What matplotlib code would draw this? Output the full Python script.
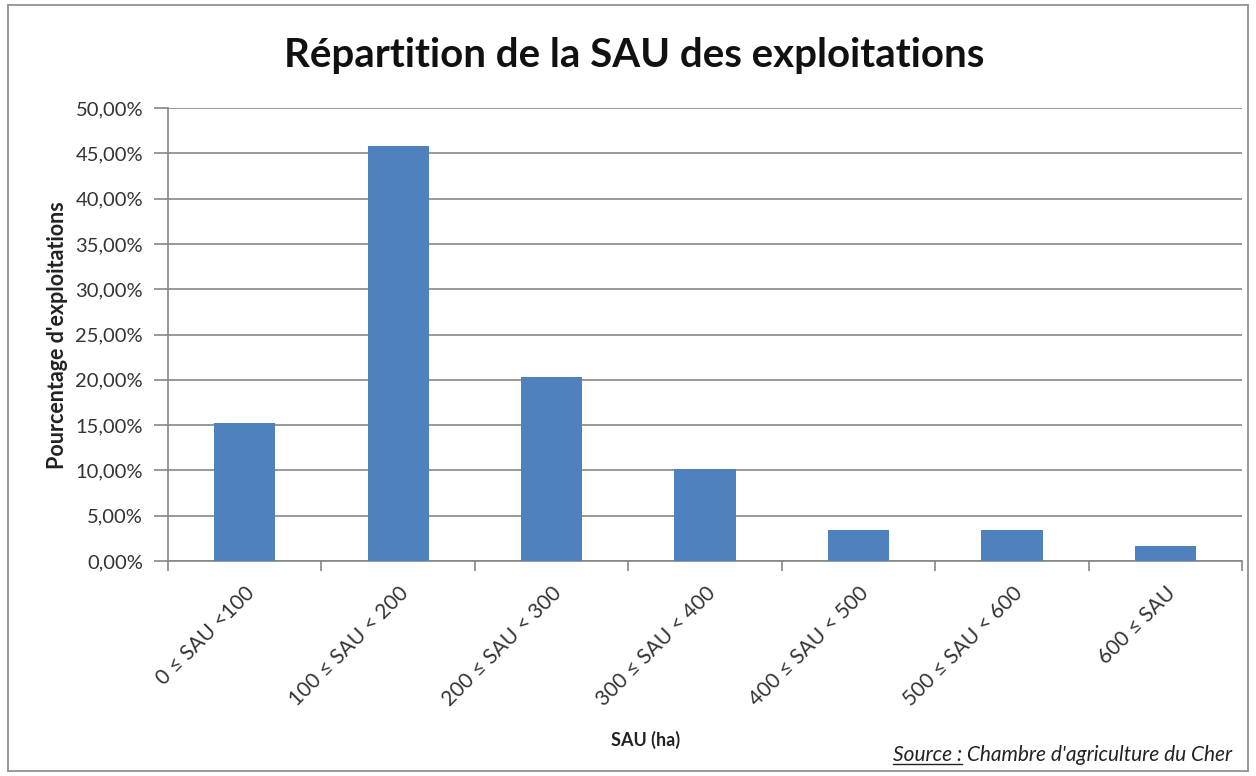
import matplotlib
matplotlib.use("Agg")
import matplotlib.pyplot as plt
from matplotlib.ticker import FuncFormatter, FixedLocator
from matplotlib.lines import Line2D
from matplotlib.patches import Rectangle

plt.rcParams['font.family'] = ['Lato', 'DejaVu Sans']

# data
categories = ["0 \u2264 SAU <100", "100 \u2264 SAU < 200", "200 \u2264 SAU < 300",
              "300 \u2264 SAU < 400", "400 \u2264 SAU < 500", "500 \u2264 SAU < 600",
              "600 \u2264 SAU"]
shares = [15.25, 45.76, 20.34, 10.17, 3.39, 3.39, 1.69]
yticks = [0, 5, 10, 15, 20, 25, 30, 35, 40, 45, 50]

grey = "#868686"
fig = plt.figure(figsize=(12.56, 7.76), dpi=100)
fig.patches.append(Rectangle((0.006, 0.006), 0.988, 0.988, transform=fig.transFigure,
                             fill=False, edgecolor=grey, lw=1.2))
ax = fig.add_axes([0.1338, 0.277, 0.8551, 0.5838])

x = list(range(len(categories)))
ax.bar(x, shares, width=0.4, color="#4F81BD", zorder=3)

ax.set_xlim(-0.5, len(categories) - 0.5)
ax.set_ylim(0, 50)
ax.set_yticks(yticks)
ax.yaxis.set_major_formatter(FuncFormatter(lambda v, p: ("%.2f%%" % v).replace(".", ",")))
ax.yaxis.grid(True, color=grey, lw=1.2, zorder=0)
ax.tick_params(axis="y", length=10, color=grey, width=1.2, labelsize=14.5, pad=8,
               labelcolor="#333333")

ax.set_xticks(x)
ax.set_xticklabels(categories, rotation=45, ha="right", va="top", rotation_mode="anchor",
                   fontsize=15, color="#333333")
ax.tick_params(axis="x", which="major", length=0, pad=16)
ax.xaxis.set_minor_locator(FixedLocator([i - 0.5 for i in range(len(categories) + 1)]))
ax.tick_params(axis="x", which="minor", length=7, color=grey, width=1.2)

for s in ["top", "right"]:
    ax.spines[s].set_visible(False)
for s in ["left", "bottom"]:
    ax.spines[s].set_color(grey)
    ax.spines[s].set_linewidth(1.2)

fig.text(0.505, 0.929, "R\u00e9partition de la SAU des exploitations", ha="center",
         va="center", fontsize=29, fontweight="bold", color="#111111")
fig.text(0.514, 0.047, "SAU (ha)", ha="center", va="center", fontsize=13,
         fontweight="bold", color="#222222")
fig.text(0.0455, 0.568, "Pourcentage d'exploitations", ha="center", va="center",
         rotation=90, fontsize=15.5, fontweight="bold", color="#222222")

# source note, with "Source :" underlined
src = fig.text(0.981, 0.027, " Chambre d'agriculture du Cher", ha="right", va="center",
               fontsize=15, style="italic", color="#222222")
fig.canvas.draw()
r = fig.canvas.get_renderer()
bb = src.get_window_extent(r)
lab = fig.text(bb.x0 / fig.bbox.width, 0.027, "Source :", ha="right", va="center",
               fontsize=15, style="italic", color="#222222")
bb2 = lab.get_window_extent(r)
yline = (bb2.y0 + 1) / fig.bbox.height
fig.lines.append(Line2D([bb2.x0 / fig.bbox.width, bb2.x1 / fig.bbox.width], [yline, yline],
                        transform=fig.transFigure, color="#222222", lw=1))

fig.savefig("out.png", dpi=100)
